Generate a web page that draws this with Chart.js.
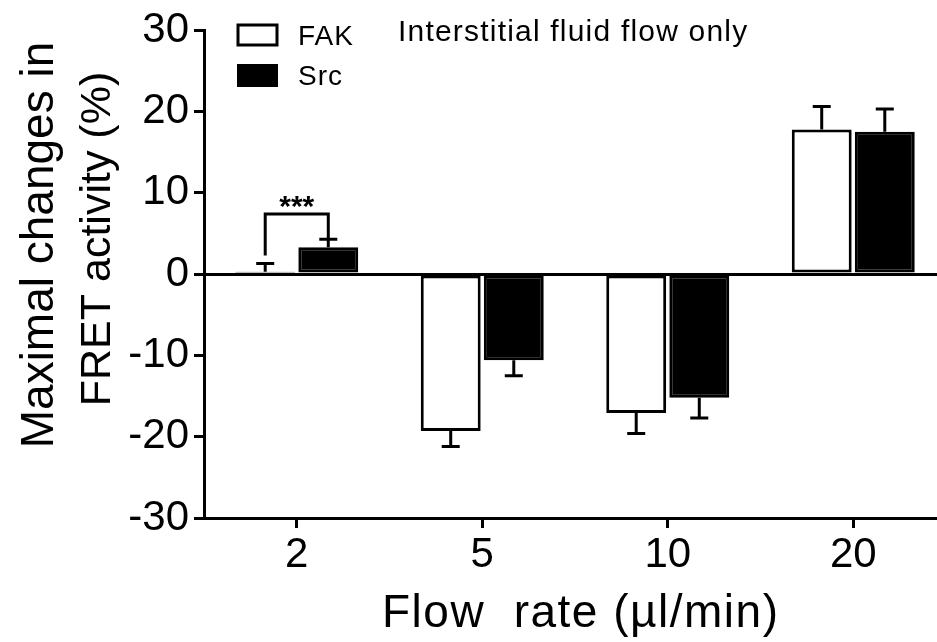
<!DOCTYPE html>
<html>
<head>
<meta charset="utf-8">
<script src="https://cdn.jsdelivr.net/npm/chart.js@4.4.1/dist/chart.umd.min.js"></script>
<style>
  html, body { margin: 0; padding: 0; background: #fff; overflow: hidden; }
  #wrap { width: 946px; height: 642px; }
</style>
</head>
<body>
<div id="wrap"><canvas id="chart" width="946" height="642"></canvas></div>
<script>
// flow rates (µl/min)
const flowRates = ['2', '5', '10', '20'];
// maximal FRET change (%) and one-sided SEM
const fakValues = [0.3, -19.3, -17.1, 17.8];
const fakErrors = [1.0, 1.9, 2.5, 2.8];
const srcValues = [3.3, -10.6, -15.2, 17.5];
const srcErrors = [1.0, 1.9, 2.5, 2.8];
const yTicks = [-30, -20, -10, 0, 10, 20, 30];
// significance bracket at 2 µl/min
const sigLabel = '***';
const sigTop = 7.4;
const sigLeftFoot = 2.3;

const FONT = '"Liberation Sans", Arial, sans-serif';

// one-sided error bars, bracket, legend and titles
const extras = {
  id: 'extras',
  afterDatasetsDraw(chart) {
    const { ctx, scales: { x, y } } = chart;
    const errs = [fakErrors, srcErrors];
    ctx.save();
    ctx.strokeStyle = '#000';
    ctx.lineWidth = 3;
    chart.data.datasets.forEach((ds, i) => {
      chart.getDatasetMeta(i).data.forEach((bar, j) => {
        const v = ds.data[j];
        const end = v + (v >= 0 ? 1 : -1) * errs[i][j];
        const yEnd = y.getPixelForValue(end);
        ctx.beginPath();
        ctx.moveTo(bar.x, bar.y);
        ctx.lineTo(bar.x, yEnd);
        ctx.moveTo(bar.x - 9, yEnd);
        ctx.lineTo(bar.x + 9, yEnd);
        ctx.stroke();
      });
    });

    // bracket between FAK and Src at 2 µl/min
    const xl = chart.getDatasetMeta(0).data[0].x;
    const xr = chart.getDatasetMeta(1).data[0].x;
    const yt = y.getPixelForValue(sigTop);
    ctx.beginPath();
    ctx.moveTo(xl, y.getPixelForValue(sigLeftFoot));
    ctx.lineTo(xl, yt);
    ctx.lineTo(xr, yt);
    ctx.lineTo(xr, y.getPixelForValue(srcValues[0] + srcErrors[0]));
    ctx.stroke();
    ctx.fillStyle = '#000';
    ctx.font = 'bold 30px ' + FONT;
    ctx.textAlign = 'center';
    ctx.textBaseline = 'alphabetic';
    ctx.fillText(sigLabel, (xl + xr) / 2, yt + 2);

    // legend
    ctx.lineWidth = 3;
    ctx.fillStyle = '#fff';
    ctx.fillRect(238, 25, 39, 20);
    ctx.strokeRect(238, 25, 39, 20);
    ctx.fillStyle = '#000';
    ctx.fillRect(237, 64, 41, 23);
    ctx.font = '28px ' + FONT;
    ctx.textAlign = 'left';
    ctx.letterSpacing = '1px';
    ctx.fillText(chart.data.datasets[0].label, 298, 45);
    ctx.fillText(chart.data.datasets[1].label, 298, 85);
    ctx.font = '30px ' + FONT;
    ctx.letterSpacing = '1.2px';
    ctx.fillText('Interstitial fluid flow only', 398, 41);

    // axis titles
    ctx.font = '46px ' + FONT;
    ctx.letterSpacing = '1.5px';
    ctx.fillText('Flow  rate (\u00b5l/min)', 382, 627);
    ctx.letterSpacing = '0px';
    ctx.textAlign = 'center';
    ctx.translate(0, 0);
    ctx.rotate(-Math.PI / 2);
    ctx.font = '46px ' + FONT;
    ctx.fillText('Maximal changes in', -245, 53);
    ctx.font = '43px ' + FONT;
    ctx.fillText('FRET activity (%)', -239, 110);
    ctx.restore();
  }
};

new Chart(document.getElementById('chart'), {
  type: 'bar',
  data: {
    labels: flowRates,
    datasets: [
      { label: 'FAK', data: fakValues, backgroundColor: '#fff', borderColor: '#000', borderWidth: 3, borderSkipped: false },
      { label: 'Src', data: srcValues, backgroundColor: '#000', borderColor: '#000', borderWidth: 3, borderSkipped: false }
    ]
  },
  options: {
    responsive: false,
    animation: false,
    events: [],
    categoryPercentage: 0.68,
    barPercentage: 0.95,
    layout: { padding: { top: 28, left: 0, right: 0, bottom: 0 } },
    plugins: { legend: { display: false }, tooltip: { enabled: false } },
    scales: {
      x: {
        afterFit: s => { s.height = 124; },
        grid: { offset: false, drawOnChartArea: false, tickLength: 10, tickColor: '#000', tickWidth: 3 },
        border: { color: '#000', width: 3 },
        ticks: { color: '#000', padding: 2, font: { family: FONT, size: 42 } }
      },
      y: {
        min: -30,
        max: 30,
        afterFit: s => { s.width = 204; },
        afterBuildTicks: s => { s.ticks = yTicks.map(v => ({ value: v })); },
        grid: {
          drawOnChartArea: true,
          color: c => (c.tick && c.tick.value === 0 ? '#000' : 'rgba(0,0,0,0)'),
          lineWidth: 3,
          tickLength: 10,
          tickColor: '#000',
          tickWidth: 3
        },
        border: { color: '#000', width: 3 },
        ticks: { color: '#000', padding: 5, font: { family: FONT, size: 42 } }
      }
    }
  },
  plugins: [extras]
});
</script>
</body>
</html>
